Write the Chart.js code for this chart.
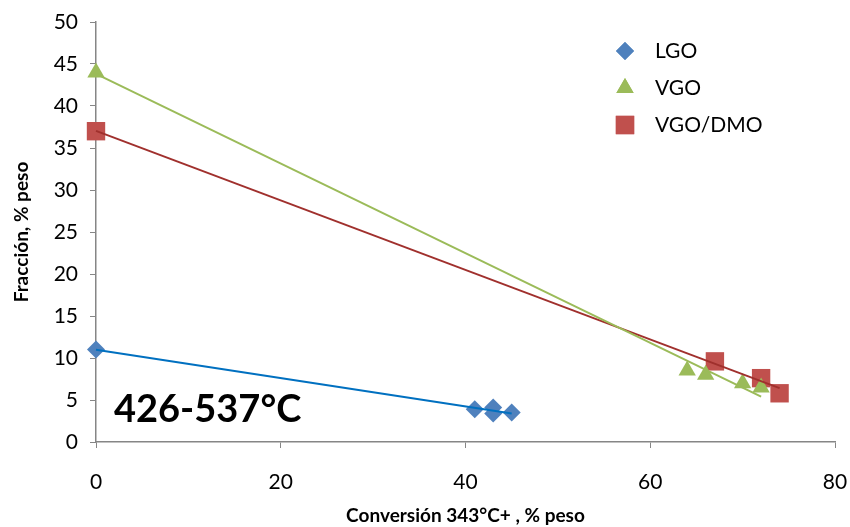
<!DOCTYPE html>
<html>
<head>
<meta charset="utf-8">
<script src="https://cdn.jsdelivr.net/npm/chart.js@4.4.0/dist/chart.umd.min.js"></script>
<style>
  html, body { margin: 0; padding: 0; background: #fff; }
  #wrap { width: 850px; height: 527px; position: relative; }
</style>
</head>
<body>
<div id="wrap"><canvas id="chart" width="850" height="527"></canvas></div>
<script>
// datos
const lgoX = [0, 41, 43, 43, 45];
const lgoY = [11, 3.9, 4.1, 3.4, 3.5];
const vgoX = [0, 64, 66, 70, 72];
const vgoY = [44, 8.5, 8.0, 7.0, 6.5];
const dmoX = [0, 67, 72, 74];
const dmoY = [37, 9.6, 7.6, 5.8];

const xTicks = [0, 20, 40, 60, 80];
const yTicks = [0, 5, 10, 15, 20, 25, 30, 35, 40, 45, 50];

const seriesNames = ["LGO", "VGO", "VGO/DMO"];
const rangeLabel = "426-537°C";

const FONT = "Lato, 'Open Sans', sans-serif";

function toPoints(xs, ys) {
    return xs.map((x, i) => ({ x: x, y: ys[i] }));
}

// linea de tendencia lineal (minimos cuadrados), como en Excel
function trend(xs, ys) {
    const n = xs.length;
    let sx = 0, sy = 0, sxx = 0, sxy = 0;
    for (let i = 0; i < n; i++) {
        sx += xs[i]; sy += ys[i];
        sxx += xs[i] * xs[i]; sxy += xs[i] * ys[i];
    }
    const m = (n * sxy - sx * sy) / (n * sxx - sx * sx);
    const b = (sy - m * sx) / n;
    const x0 = Math.min(...xs), x1 = Math.max(...xs);
    return [{ x: x0, y: m * x0 + b }, { x: x1, y: m * x1 + b }];
}

const markers = [
    { style: "rectRot", radius: 9, color: "#4F81BD" },
    { style: "triangle", radius: 10, color: "#9BBB59" },
    { style: "rect", radius: 13, color: "#C0504D" }
];

// leyenda dentro del area del grafico
const legendPlugin = {
    id: "customLegend",
    afterDraw(chart) {
        const ctx = chart.ctx;
        ctx.save();
        ctx.font = "21px " + FONT;
        ctx.fillStyle = "#000";
        ctx.textBaseline = "middle";
        seriesNames.forEach((name, i) => {
            const y = 51 + i * 37;
            const mk = markers[i];
            ctx.fillStyle = mk.color;
            ctx.strokeStyle = mk.color;
            Chart.helpers.drawPoint(ctx, { pointStyle: mk.style, radius: mk.radius, borderWidth: 0 }, 625, y);
            ctx.fill();
            ctx.fillStyle = "#000";
            ctx.fillText(name, 655, y);
        });
        ctx.font = "bold 38px " + FONT;
        ctx.fillText(rangeLabel, 114, 410);
        ctx.restore();
    }
};

const ctx = document.getElementById("chart").getContext("2d");

new Chart(ctx, {
    type: "scatter",
    data: {
        datasets: [
            { type: "line", data: trend(lgoX, lgoY), borderColor: "#0070C0", borderWidth: 2, pointRadius: 0, fill: false, clip: false },
            { type: "line", data: trend(vgoX, vgoY), borderColor: "#9BBB59", borderWidth: 2, pointRadius: 0, fill: false, clip: false },
            { type: "line", data: trend(dmoX, dmoY), borderColor: "#A0302D", borderWidth: 2, pointRadius: 0, fill: false, clip: false },
            { label: seriesNames[0], data: toPoints(lgoX, lgoY), pointStyle: "rectRot", pointRadius: 9, backgroundColor: "#4F81BD", borderWidth: 0, clip: false },
            { label: seriesNames[1], data: toPoints(vgoX, vgoY), pointStyle: "triangle", pointRadius: 10, backgroundColor: "#9BBB59", borderWidth: 0, clip: false },
            { label: seriesNames[2], data: toPoints(dmoX, dmoY), pointStyle: "rect", pointRadius: 13, backgroundColor: "#C0504D", borderWidth: 0, clip: false }
        ]
    },
    options: {
        responsive: false,
        animation: false,
        layout: { padding: { top: 22, right: 15, left: 0, bottom: 0 } },
        plugins: {
            legend: { display: false },
            tooltip: { enabled: false }
        },
        scales: {
            x: {
                type: "linear",
                min: 0, max: 80,
                afterBuildTicks: s => { s.ticks = xTicks.map(v => ({ value: v })); },
                afterFit: s => { s.height = 85; s.paddingLeft = 0; s.paddingRight = 0; },
                grid: { drawOnChartArea: false, drawTicks: true, tickLength: 6, color: "#868686" },
                border: { color: "#868686", width: 1.5 },
                ticks: { color: "#000", font: { size: 21, family: FONT }, padding: 22, maxRotation: 0 },
                title: { display: true, text: "Conversión 343°C+ , % peso", color: "#000", font: { size: 19, weight: "bold", family: FONT }, padding: { top: 0, bottom: 0 } }
            },
            y: {
                type: "linear",
                min: 0, max: 50,
                afterBuildTicks: s => { s.ticks = yTicks.map(v => ({ value: v })); },
                afterFit: s => { s.width = 96; s.paddingTop = 0; s.paddingBottom = 0; },
                grid: { drawOnChartArea: false, drawTicks: true, tickLength: 6, color: "#868686" },
                border: { color: "#868686", width: 1.5 },
                ticks: { color: "#000", font: { size: 21, family: FONT }, padding: 12 },
                title: { display: true, text: "Fracción, % peso", color: "#000", font: { size: 19, weight: "bold", family: FONT }, padding: { top: 10, bottom: 4 } }
            }
        }
    },
    plugins: [legendPlugin]
});
</script>
</body>
</html>
